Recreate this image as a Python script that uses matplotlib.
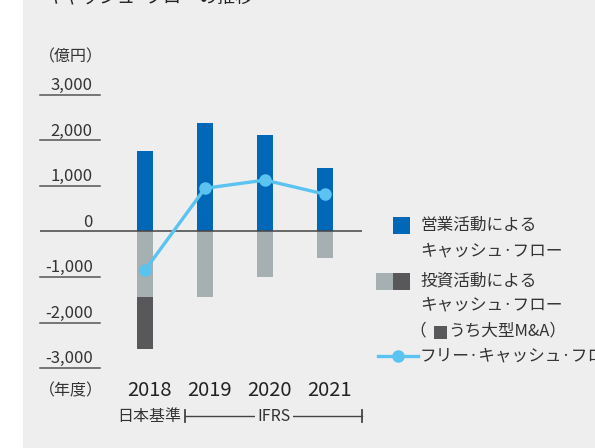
import matplotlib
matplotlib.use("Agg")
import matplotlib.pyplot as plt
from matplotlib.patches import Rectangle
from matplotlib.lines import Line2D
from matplotlib.transforms import offset_copy

plt.rcParams["font.family"] = ["Noto Sans CJK JP", "DejaVu Sans"]

# キャッシュ・フロー（億円）
years = ["2018", "2019", "2020", "2021"]
operating_cf = [1770, 2380, 2120, 1400]
investing_cf = [-1440, -1450, -1000, -585]   # 大型M&A を除く部分
large_ma = [-1140, 0, 0, 0]
free_cf = [-850, 950, 1130, 820]
y_ticks = [3000, 2000, 1000, 0, -1000, -2000, -3000]

BLUE = "#0068b7"
GRAY = "#a6afb2"
DARK = "#58585a"
SKY = "#5bc3f0"
BG = "#eeeeee"
INK = "#333333"

W, H = 595, 448
fig = plt.figure(figsize=(W / 100, H / 100), dpi=100, facecolor="white")


def fx(px):
    return px / W


def fy(py):
    return 1 - py / H


# 背景パネル
fig.add_artist(Rectangle((fx(23), 0), 1 - fx(23), 1, transform=fig.transFigure,
                         facecolor=BG, edgecolor="none", zorder=0))

# タイトル（上端で切れている）
fig.text(fx(45), fy(3), "キャッシュ\u00b7フローの推移", fontsize=13,
         color="#222", ha="left", va="baseline")

ax = fig.add_axes([fx(40), fy(368), fx(362) - fx(40), fy(95) - fy(368)])
ax.set_facecolor("none")
ax.set_xlim(-1.75, 3.617)
ax.set_ylim(-3000, 3000)
ax.axis("off")

x = list(range(len(years)))
bw = 0.27
ax.bar(x, operating_cf, width=bw, color=BLUE, zorder=2)
ax.bar(x, investing_cf, width=bw, color=GRAY, zorder=2)
ax.bar(x, large_ma, width=bw, bottom=investing_cf, color=DARK, zorder=2)

# 目盛り線とラベル
for v in y_ticks:
    if v == 0:
        ax.axhline(0, color="#444", lw=1.1, zorder=3)
    else:
        ax.plot([-1.75, -0.75], [v, v], color="#555", lw=1.1, zorder=3,
                clip_on=False)
    ax.text(-0.87, v, f"{v:,}", ha="right", va="baseline", fontsize=12,
            color=INK, transform=offset_copy(ax.transData, fig=fig, y=5,
                                             units="dots"))

ax.plot(x, free_cf, color=SKY, lw=2.4, marker="o", markersize=8, zorder=4,
        solid_capstyle="round")

# 年度ラベル
for i, yr in enumerate(years):
    ax.text(i + 0.08, 0, yr, ha="center", va="center", fontsize=14.5,
            color="#222", transform=offset_copy(ax.get_xaxis_transform(),
                                                fig=fig, y=-(391 - 368),
                                                units="dots"))

fig.text(fx(39), fy(57), "（億円）", ha="left", va="center", fontsize=11.5,
         color=INK)
fig.text(fx(39), fy(391), "（年度）", ha="left", va="center", fontsize=11.5,
         color=INK)

# 会計基準の区分
fig.text(fx(181), fy(416), "日本基準", ha="right", va="center", fontsize=11.5,
         color=INK)
fig.add_artist(Line2D([fx(185), fx(362)], [fy(416), fy(416)], color="#444",
                      lw=1, transform=fig.transFigure))
for px in (185, 362):
    fig.add_artist(Line2D([fx(px), fx(px)], [fy(410), fy(422)], color="#444",
                          lw=1.3, transform=fig.transFigure))
fig.text(fx(274), fy(416), "IFRS", ha="center", va="center", fontsize=11.5,
         color=INK, bbox=dict(facecolor=BG, edgecolor="none", pad=1.5))

# 凡例
def swatch(x0, y0, color, size=17):
    fig.add_artist(Rectangle((fx(x0), fy(y0 + size)), fx(size), size / H,
                             transform=fig.transFigure, facecolor=color,
                             edgecolor="none"))


LEG = 12
CF = "キャッシュ\u00b7フロー"
swatch(393, 217, BLUE)
fig.text(fx(420), fy(225), "営業活動による", fontsize=LEG, color=INK, va="center")
fig.text(fx(420), fy(251), CF, fontsize=LEG, color=INK, va="center")
swatch(376, 273, GRAY)
swatch(393, 273, DARK)
fig.text(fx(420), fy(281), "投資活動による", fontsize=LEG, color=INK, va="center")
fig.text(fx(420), fy(305), CF, fontsize=LEG, color=INK, va="center")
fig.text(fx(409), fy(331), "（", fontsize=LEG, color=INK, va="center")
swatch(434, 326, DARK, size=13)
fig.text(fx(448), fy(331), "うち大型M&A）", fontsize=LEG, color=INK, va="center")
fig.add_artist(Line2D([fx(378), fx(418)], [fy(356), fy(356)], color=SKY, lw=2.4,
                      transform=fig.transFigure))
fig.add_artist(Line2D([fx(398)], [fy(356)], color=SKY, marker="o",
                      markersize=8, transform=fig.transFigure))
fig.text(fx(420), fy(356), "フリー\u00b7" + CF, fontsize=LEG, color=INK,
         va="center")

fig.savefig("out.png", dpi=100, facecolor=fig.get_facecolor())
